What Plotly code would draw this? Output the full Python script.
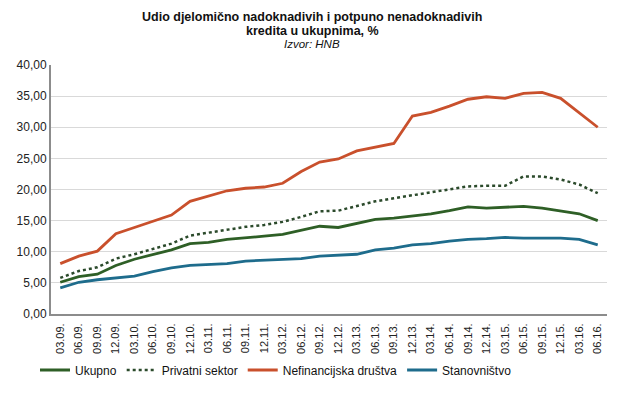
import plotly.graph_objects as go

categories = ["03.09.", "06.09.", "09.09.", "12.09.", "03.10.", "06.10.", "09.10.", "12.10.",
              "03.11.", "06.11.", "09.11.", "12.11.", "03.12.", "06.12.", "09.12.", "12.12.",
              "03.13.", "06.13.", "09.13.", "12.13.", "03.14.", "06.14.", "09.14.", "12.14.",
              "03.15.", "06.15.", "09.15.", "12.15.", "03.16.", "06.16."]

ukupno = [5.1, 6.0, 6.4, 7.8, 8.8, 9.5, 10.3, 11.3, 11.5, 12.0, 12.2, 12.5, 12.8, 13.4, 14.1, 13.9,
          14.6, 15.2, 15.4, 15.7, 16.1, 16.6, 17.2, 17.0, 17.1, 17.3, 17.0, 16.6, 16.1, 15.0]
privatni = [5.8, 6.9, 7.5, 8.9, 9.6, 10.4, 11.3, 12.6, 13.1, 13.6, 14.0, 14.3, 14.8, 15.6, 16.5, 16.6,
            17.4, 18.1, 18.6, 19.1, 19.5, 20.0, 20.5, 20.6, 20.6, 22.1, 22.1, 21.6, 20.8, 19.4]
nefinancijska = [8.1, 9.3, 10.1, 12.9, 13.9, 14.9, 15.9, 18.1, 18.9, 19.8, 20.2, 20.4, 21.0, 22.9, 24.4, 24.9,
                 26.2, 26.8, 27.4, 31.8, 32.4, 33.4, 34.5, 34.9, 34.65, 35.45, 35.6, 34.65, 32.4, 30.0]
stanovnistvo = [4.2, 5.1, 5.5, 5.8, 6.1, 6.8, 7.4, 7.8, 8.0, 8.1, 8.5, 8.6, 8.7, 8.9, 9.3, 9.5,
                9.6, 10.3, 10.6, 11.1, 11.3, 11.7, 12.0, 12.1, 12.3, 12.2, 12.2, 12.2, 12.0, 11.1]

fig = go.Figure()
fig.add_trace(go.Scatter(x=categories, y=ukupno, name="Ukupno", mode="lines",
                         line=dict(color="#2E5F26", width=2.8)))
fig.add_trace(go.Scatter(x=categories, y=privatni, name="Privatni sektor", mode="lines",
                         line=dict(color="#2B4A2B", width=2.5, dash="dot")))
fig.add_trace(go.Scatter(x=categories, y=nefinancijska, name="Nefinancijska društva", mode="lines",
                         line=dict(color="#C9502C", width=2.8)))
fig.add_trace(go.Scatter(x=categories, y=stanovnistvo, name="Stanovništvo", mode="lines",
                         line=dict(color="#1E6C8C", width=2.8)))

cx = (312 - 51) / 556

fig.update_layout(
    width=625, height=407,
    margin=dict(l=51, r=18, t=65, b=93, autoexpand=False),
    paper_bgcolor="white", plot_bgcolor="white",
    separators=",.",
    font=dict(family="Liberation Sans, Arial, sans-serif", size=11, color="#222"),
    showlegend=True,
    legend=dict(orientation="h", x=(276 - 51) / 556, xanchor="center",
                y=-0.225, yanchor="middle",
                font=dict(size=12, color="#111"), itemwidth=30, tracegroupgap=0),
)
fig.add_annotation(text="<b>Udio djelomično nadoknadivih i potpuno nenadoknadivih</b>",
                   xref="paper", yref="paper", x=cx, y=1 + (65 - 17) / 249,
                   xanchor="center", yanchor="middle", showarrow=False,
                   font=dict(size=12.5, color="#111"))
fig.add_annotation(text="<b>kredita u ukupnima, %</b>",
                   xref="paper", yref="paper", x=cx, y=1 + (65 - 31) / 249,
                   xanchor="center", yanchor="middle", showarrow=False,
                   font=dict(size=12.5, color="#111"))
fig.add_annotation(text="<i>Izvor: HNB</i>",
                   xref="paper", yref="paper", x=cx, y=1 + (65 - 44) / 249,
                   xanchor="center", yanchor="middle", showarrow=False,
                   font=dict(size=11.5, color="#111"))

fig.update_xaxes(type="category", range=[-0.5, len(categories) - 0.5], tickangle=-90,
                 showgrid=False, showline=True, linecolor="#8c8c8c", linewidth=2,
                 ticks="outside", ticklen=3, tickcolor="rgba(0,0,0,0)",
                 tickfont=dict(size=11, color="#222"))
fig.update_yaxes(range=[0, 40], dtick=5, tickformat=".2f", showgrid=True, gridcolor="#d9d9d9",
                 gridwidth=1, showline=True, linecolor="#8c8c8c", linewidth=2, zeroline=False,
                 ticks="", tickfont=dict(size=12, color="#222"))

fig.write_html("out.html")
